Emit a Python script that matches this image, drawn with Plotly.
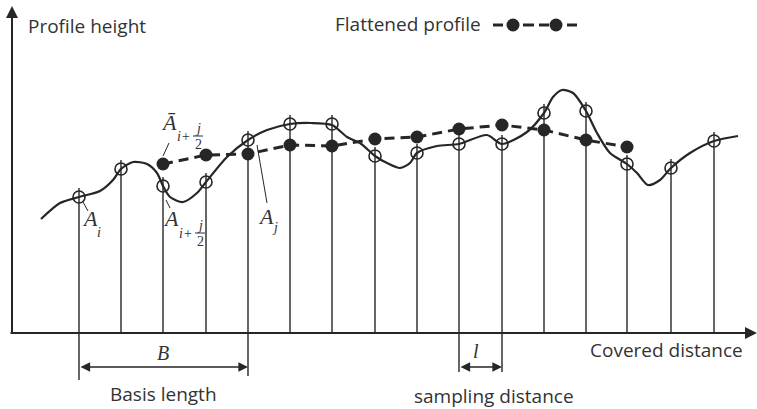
import plotly.graph_objects as go

# ---- data (distance from origin, height above baseline) ----
sample_x = [67, 109, 151, 194, 236, 278, 320, 363, 405, 447, 490, 532, 574, 615, 659, 702]
sample_h = [136, 164, 147, 151, 193, 209, 209, 177, 180, 189, 189, 220, 222, 169, 165, 192]

flat_x = [151, 194, 236, 278, 320, 363, 405, 447, 490, 532, 574, 615]
flat_h = [169, 178, 179, 188, 187, 194, 196, 204, 208, 203, 193, 186]

curve_x = [29, 48, 67, 88, 101, 109, 121, 135, 145, 151, 158, 171, 185, 194, 215, 236, 255, 278,
           299, 320, 335, 348, 363, 375, 388, 398, 405, 425, 447, 475, 490, 515, 532, 541, 550, 561,
           574, 585, 598, 615, 625, 636, 648, 659, 678, 702, 726]
curve_h = [114, 130, 136, 142, 153, 164, 171, 169, 160, 147, 136, 131, 140, 151, 176, 193, 203, 209,
           210, 208, 196, 190, 177, 170, 165, 170, 180, 187, 189, 198, 189, 201, 220, 236, 243, 240,
           222, 200, 180, 169, 160, 148, 153, 165, 180, 192, 197]

W, H = 757, 409
OX, OY = 12, 333  # pixel position of origin


def X(px):
    return px - OX


def Y(py):
    return OY - py


INK = "#262626"
TXT = "#333333"

fig = go.Figure()

# vertical sampling lines
vx, vy = [], []
for x, h in zip(sample_x, sample_h):
    vx += [x, x, None]
    vy += [0, h + 9, None]
fig.add_trace(go.Scatter(x=vx, y=vy, mode="lines", line=dict(color=INK, width=1.4),
                         hoverinfo="skip", showlegend=False))

# profile curve
fig.add_trace(go.Scatter(x=curve_x, y=curve_h, mode="lines",
                         line=dict(color=INK, width=2.2, shape="spline", smoothing=0.75),
                         hoverinfo="skip", showlegend=False))

# flattened profile
fig.add_trace(go.Scatter(x=flat_x, y=flat_h, mode="lines+markers",
                         line=dict(color=INK, width=3, dash="10px,6px"),
                         marker=dict(size=13, color=INK),
                         hoverinfo="skip", showlegend=False))

# sampled points (open circles)
fig.add_trace(go.Scatter(x=sample_x, y=sample_h, mode="markers",
                         marker=dict(size=12, symbol="circle-open", color=INK, line=dict(width=1.6)),
                         hoverinfo="skip", showlegend=False))

shapes = []
anns = []

# axes with arrows
anns.append(dict(x=X(12), y=Y(6), ax=X(12), ay=Y(334), xref="x", yref="y", axref="x", ayref="y",
                 text="", showarrow=True, arrowhead=2, arrowsize=1.2, arrowwidth=2, arrowcolor=INK))
anns.append(dict(x=X(757), y=Y(333), ax=X(9), ay=Y(333), xref="x", yref="y", axref="x", ayref="y",
                 text="", showarrow=True, arrowhead=2, arrowsize=1.2, arrowwidth=2, arrowcolor=INK))

# extension lines for dimensions
for px, bottom in [(79, 380), (248, 376), (459, 372), (502, 372)]:
    shapes.append(dict(type="line", x0=X(px), x1=X(px), y0=Y(333), y1=Y(bottom),
                       line=dict(color=INK, width=1.4)))

# dimension arrows
for x0, x1 in [(79, 248), (459, 502)]:
    anns.append(dict(x=X(x1), y=Y(367), ax=X(x0), ay=Y(367), xref="x", yref="y", axref="x", ayref="y",
                     text="", showarrow=True, arrowhead=2, startarrowhead=2, arrowside="end+start",
                     arrowsize=1.2, startarrowsize=1.2, arrowwidth=1.6, arrowcolor=INK))

sans = "Open Sans"
serif = "Liberation Serif"


def text(px, py, s, size=19, family=sans, anchor="left", italic=False):
    if italic:
        s = "<i>" + s + "</i>"
    anns.append(dict(x=X(px), y=Y(py), xref="x", yref="y", text=s, showarrow=False,
                     xanchor=anchor, yanchor="middle",
                     font=dict(family=family, size=size, color=TXT)))


text(26, 26, "Profile height")
text(333, 24, "Flattened profile")
text(588, 350, "Covered distance")
text(108, 394, "Basis length")
text(412, 396, "sampling distance")
text(163, 353, "B", size=20, family=serif, anchor="center", italic=True)
text(476, 351, "l", size=20, family=serif, anchor="center", italic=True)

# legend symbol: -●--●-
for a, b in [(493, 503), (523, 534), (539, 549), (567, 577)]:
    shapes.append(dict(type="line", x0=X(a), x1=X(b), y0=Y(25), y1=Y(25), line=dict(color=INK, width=3)))
fig.add_trace(go.Scatter(x=[X(513), X(556)], y=[Y(25), Y(25)], mode="markers",
                         marker=dict(size=13, color=INK), hoverinfo="skip", showlegend=False))

# point labels
text(90, 218, "A", size=22, family=serif, anchor="center", italic=True)
text(99, 232, "i", size=14, family=serif, anchor="center", italic=True)
text(171, 218, "A", size=22, family=serif, anchor="center", italic=True)
text(266, 216, "A", size=22, family=serif, anchor="center", italic=True)
text(275, 227, "j", size=14, family=serif, anchor="center", italic=True)
text(169, 122, "Ā", size=22, family=serif, anchor="center", italic=True)


def frac_sub(px, py):
    text(px, py, "i+", size=14, family=serif, anchor="center", italic=True)
    text(px + 15, py - 8, "j", size=14, family=serif, anchor="center", italic=True)
    text(px + 15, py + 8, "2", size=14, family=serif, anchor="center")
    shapes.append(dict(type="line", x0=X(px + 10), x1=X(px + 20), y0=Y(py), y1=Y(py),
                       line=dict(color=TXT, width=1)))


frac_sub(183, 136)
frac_sub(185, 233)

# leader lines
for (a, b), (c, d) in [((83, 202), (88, 211)), ((166, 200), (170, 208)),
                       ((257, 145), (267, 203)), ((169, 143), (163, 156))]:
    shapes.append(dict(type="line", x0=X(a), x1=X(c), y0=Y(b), y1=Y(d), line=dict(color=INK, width=1)))

fig.update_layout(
    width=W, height=H, margin=dict(l=0, r=0, t=0, b=0),
    paper_bgcolor="white", plot_bgcolor="white",
    xaxis=dict(range=[X(0), X(W)], visible=False, fixedrange=True),
    yaxis=dict(range=[Y(H), Y(0)], visible=False, fixedrange=True),
    shapes=shapes, annotations=anns, showlegend=False,
)

fig.write_html("out.html")
